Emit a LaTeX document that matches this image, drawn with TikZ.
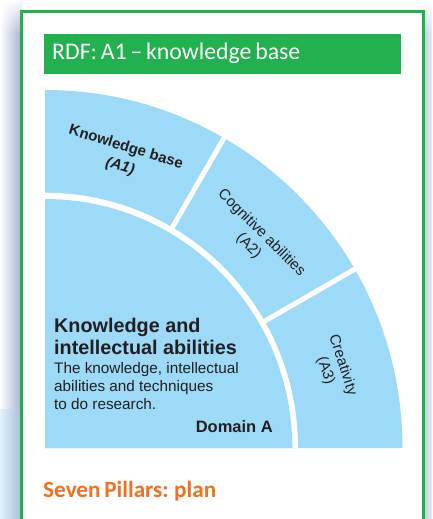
\documentclass[tikz,border=0pt]{standalone}
\usepackage{fontspec}
\setmainfont{Liberation Sans}
\newfontfamily\headfont[WordSpace=0.7]{Carlito}
\usetikzlibrary{fadings}
\definecolor{framegreen}{HTML}{23B14F}
\definecolor{skyfill}{HTML}{9DDAF8}
\definecolor{inktext}{HTML}{231F20}
\definecolor{orangehead}{HTML}{F36F21}
\definecolor{paleblue}{HTML}{E1F3FC}
\definecolor{shadowc}{HTML}{A8B2CC}
\definecolor{shadowb}{HTML}{A9BED6}
\definecolor{shadowr}{HTML}{C2CCE0}
\tikzset{
  sector/.style={fill=skyfill,draw=none},
  divider/.style={draw=white,line width=5pt},
  ringlabel/.style={text=inktext,align=center,inner sep=0pt,font=\fontsize{15}{18}\selectfont},
}
\begin{document}
\begin{tikzpicture}[x=1pt,y=-1pt]
\useasboundingbox (0,0) rectangle (432,519);
\fill[white] (0,0) rectangle (432,519);
% shadows
\shade[left color=white,right color=shadowc] (0,0) rectangle (21,409);
\shade[left color=paleblue,right color=shadowb] (0,409) rectangle (21,519);
\shade[left color=shadowr,right color=white!60!shadowr] (423,0) rectangle (432,519);
\fill[white,path fading=south] (-1,-1) rectangle (21,34);
\fill[white,path fading=south] (423,-1) rectangle (433,34);
% frame
\draw[framegreen,line width=2.6pt,fill=white] (21.3,11.3) rectangle (423.3,530);
% title bar
\node[fill=framegreen,minimum width=357pt,minimum height=40pt,inner sep=0pt,anchor=north west] (bar) at (44,34) {};
\node[anchor=west,text=white,inner sep=0pt,font=\headfont\fontsize{23.8}{28}\selectfont] (title) at (52,53.5) {RDF: A1 – knowledge base};
% sectors
\fill[sector] (45,448) -- (402.5,448) arc[start angle=0,end angle=-90,x radius=357.5,y radius=358] -- cycle;
\fill[white] (45,448) -- (298,448) arc[start angle=0,end angle=-90,x radius=253,y radius=255.3] -- cycle;
\fill[sector] (45,448) -- (292.3,448) arc[start angle=0,end angle=-90,x radius=247.3,y radius=249] -- cycle;
% dividers
\coordinate (d1a) at (171,229.8);
\coordinate (d1b) at (226,134.5);
\coordinate (d2a) at (263.2,322);
\coordinate (d2b) at (358.5,267);
\draw[divider] (d1a) -- (d1b);
\draw[divider] (d2a) -- (d2b);
% ring labels
\node[ringlabel,rotate=-17] (a1) at (123,157) {\textbf{Knowledge base}\\[2pt]\textbf{\textit{(A1)}}};
\node[ringlabel,rotate=-45] (a2) at (255,239.5) {Cognitive abilities\\(A2)};
\node[ringlabel,rotate=-72] (a3) at (334,368) {Creativity\\(A3)};
% domain text
\node[anchor=north west,text=inktext,inner sep=0pt,align=left,font=\bfseries\fontsize{19.8}{22}\selectfont] (dh) at (54,317.5) {Knowledge and\\intellectual abilities};
\node[anchor=north west,text=inktext,inner sep=0pt,align=left,font=\fontsize{15.3}{18.3}\selectfont] (db) at (54,362) {The knowledge, intellectual\\abilities and techniques\\to do research.};
\node[anchor=east,text=inktext,inner sep=0pt,font=\bfseries\fontsize{16.5}{18}\selectfont] (dom) at (273,427) {Domain A};
% bottom heading
\node[anchor=west,text=orangehead,inner sep=0pt,font=\headfont\bfseries\fontsize{23.2}{26}\selectfont] (plan) at (43,491) {Seven Pillars: plan};
\end{tikzpicture}
\end{document}
